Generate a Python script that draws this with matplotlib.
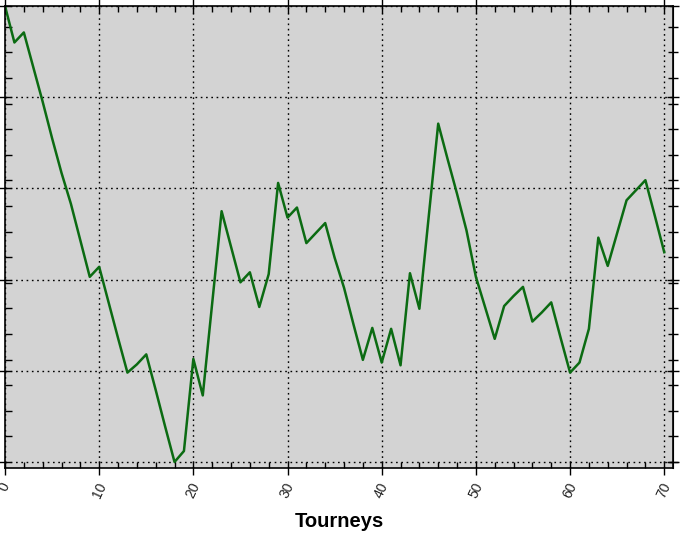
import matplotlib.pyplot as plt
from matplotlib.ticker import MultipleLocator

# tourney index and running result
tourneys = list(range(71))
resultado = [
    500, 460, 471, 433, 395, 355, 317, 283, 243, 203,
    214, 175, 136, 98, 107, 118, 79, 39, 0, 12,
    113, 73, 174, 275, 236, 197, 208, 170, 206, 306,
    268, 279, 240, 251, 262, 224, 191, 151, 112, 147,
    109, 146, 106, 207, 168, 270, 371, 332, 294, 254,
    203, 169, 135, 171, 182, 192, 154, 164, 175, 136,
    98, 109, 146, 246, 215, 251, 287, 298, 309, 270,
    230,
]

COR_LINHA = '#0b6b12'
COR_FUNDO = '#d3d3d3'


def main():
    fig = plt.figure(figsize=(6.84, 5.35), dpi=100)
    ax = fig.add_axes([5 / 684, 1 - 468 / 535, 668 / 684, 462 / 535])
    ax.set_facecolor(COR_FUNDO)

    ax.plot(tourneys, resultado, color=COR_LINHA, linewidth=1.8)

    ax.set_xlim(0, 70.93)
    ax.set_ylim(-6.6, 500)

    ax.xaxis.set_major_locator(MultipleLocator(10))
    ax.xaxis.set_minor_locator(MultipleLocator(2))
    ax.yaxis.set_major_locator(MultipleLocator(100))
    ax.yaxis.set_minor_locator(MultipleLocator(28.07))

    ax.grid(True, which='major', color='black', linestyle=(0, (1.2, 2.6)), linewidth=1.0)

    ax.tick_params(axis='x', which='major', direction='inout', length=10, width=1,
                   top=True, labelsize=10, pad=4, labelcolor='#222222')
    ax.tick_params(axis='x', which='minor', direction='in', length=4, width=1, top=True)
    ax.tick_params(axis='y', which='major', direction='inout', length=9, width=1,
                   right=True, labelleft=False)
    ax.tick_params(axis='y', which='minor', direction='in', length=5, width=1, right=False)

    # ticks on the right side point outward
    direita = ax.secondary_yaxis('right')
    direita.yaxis.set_major_locator(MultipleLocator(28.07))
    direita.tick_params(direction='inout', length=7, width=1, labelright=False)

    for rotulo in ax.get_xticklabels():
        rotulo.set_rotation(65)
        rotulo.set_ha('center')
        rotulo.set_family('Liberation Sans')

    for lado in ax.spines.values():
        lado.set_linewidth(1.2)

    ax.set_xlabel('Tourneys', fontsize=14.5, fontweight='bold', family='Liberation Sans')
    ax.xaxis.set_label_coords(0.5, -0.095)

    fig.savefig('out.png', dpi=100)


if __name__ == '__main__':
    main()
